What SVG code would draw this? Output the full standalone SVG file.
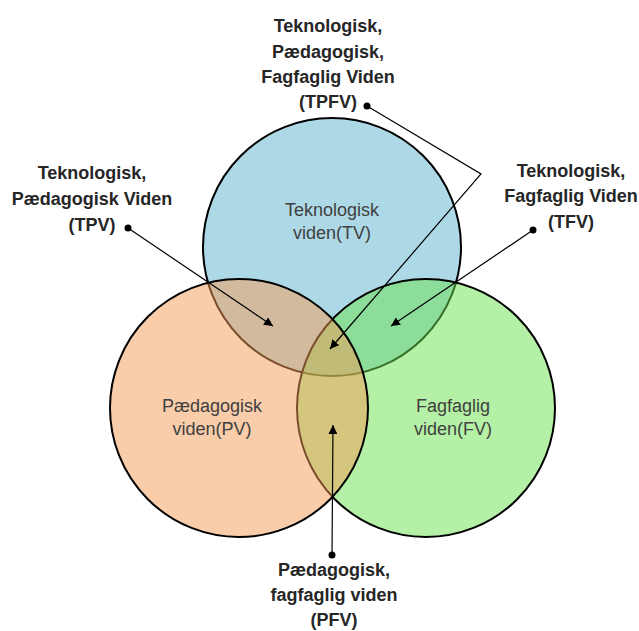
<svg xmlns="http://www.w3.org/2000/svg" width="639" height="631" viewBox="0 0 639 631">
<style>
.c{stroke:#000;stroke-width:2;fill-opacity:0.5}
.ct{font-family:"Liberation Sans",Arial,sans-serif;font-size:18px;fill:#404040;text-anchor:middle}
.lb{font-family:"Liberation Sans",Arial,sans-serif;font-size:18px;font-weight:bold;fill:#262626;text-anchor:middle}
.ln{stroke:#000;stroke-width:1.2;fill:none}
.dot{fill:#000}
</style>
<defs>
<marker id="ah" viewBox="0 0 10 10" refX="10" refY="5" markerWidth="9" markerHeight="9" markerUnits="userSpaceOnUse" orient="auto">
<path d="M0,0 L10,5 L0,10 z" fill="#000"/>
</marker>
</defs>
<rect width="639" height="631" fill="#fff"/>
<g id="tv">
<circle class="c" cx="332" cy="247" r="129" fill="#5bb1cd"/>
</g>
<g id="fv">
<circle class="c" cx="426" cy="408" r="129" fill="#69e14b"/>
</g>
<g id="pv">
<circle class="c" cx="239" cy="408" r="129" fill="#f59b55"/>
</g>
<g id="tv-label">
<text class="ct" x="332" y="216">Teknologisk</text>
<text class="ct" x="332" y="239">viden(TV)</text>
</g>
<g id="pv-label">
<text class="ct" x="212" y="412">Pædagogisk</text>
<text class="ct" x="212" y="435">viden(PV)</text>
</g>
<g id="fv-label">
<text class="ct" x="453" y="412">Fagfaglig</text>
<text class="ct" x="453" y="435">viden(FV)</text>
</g>
<g id="tpfv">
<text class="lb" x="328" y="32">Teknologisk,</text>
<text class="lb" x="328" y="57.5">Pædagogisk,</text>
<text class="lb" x="328" y="83">Fagfaglig Viden</text>
<text class="lb" x="328" y="108">(TPFV)</text>
</g>
<g id="tpv">
<text class="lb" x="92" y="179">Teknologisk,</text>
<text class="lb" x="92" y="205">Pædagogisk Viden</text>
<text class="lb" x="92" y="231">(TPV)</text>
</g>
<g id="tfv">
<text class="lb" x="571" y="177">Teknologisk,</text>
<text class="lb" x="571" y="202">Fagfaglig Viden</text>
<text class="lb" x="571" y="228">(TFV)</text>
</g>
<g id="pfv">
<text class="lb" x="334" y="576">Pædagogisk,</text>
<text class="lb" x="334" y="601">fagfaglig viden</text>
<text class="lb" x="334" y="626">(PFV)</text>
</g>
<g id="connectors">
<polyline class="ln" points="367,106 481,174 330,349" marker-end="url(#ah)"/>
<circle class="dot" cx="367" cy="106" r="3.5"/>
<line class="ln" x1="128" y1="228" x2="273" y2="326" marker-end="url(#ah)"/>
<circle class="dot" cx="128" cy="228" r="3.5"/>
<line class="ln" x1="533" y1="230" x2="391" y2="326" marker-end="url(#ah)"/>
<circle class="dot" cx="533" cy="230" r="3.5"/>
<line class="ln" x1="332" y1="555" x2="333" y2="425" marker-end="url(#ah)"/>
<circle class="dot" cx="332" cy="555" r="3.5"/>
</g>
</svg>
